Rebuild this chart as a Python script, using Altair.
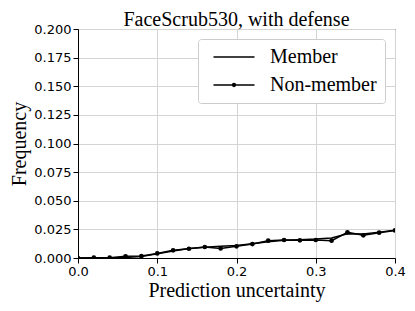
import altair as alt
import pandas as pd

x_vals = [0.00, 0.02, 0.04, 0.06, 0.08, 0.10, 0.12, 0.14, 0.16, 0.18, 0.20,
          0.22, 0.24, 0.26, 0.28, 0.30, 0.32, 0.34, 0.36, 0.38, 0.40]
member = [0.0000, 0.0000, 0.0002, 0.0005, 0.0012, 0.0038, 0.0062, 0.0082, 0.0093,
          0.0102, 0.0110, 0.0125, 0.0142, 0.0155, 0.0160, 0.0165, 0.0175, 0.0212,
          0.0210, 0.0226, 0.0242]
non_member = [0.0000, 0.0003, 0.0003, 0.0015, 0.0017, 0.0040, 0.0067, 0.0081, 0.0096,
              0.0084, 0.0102, 0.0122, 0.0151, 0.0157, 0.0154, 0.0157, 0.0151, 0.0224,
              0.0198, 0.0221, 0.0241]
series_names = ["Member", "Non-member"]
y_ticks = [0.0, 0.025, 0.05, 0.075, 0.1, 0.125, 0.15, 0.175, 0.2]
x_ticks = [0.0, 0.1, 0.2, 0.3, 0.4]

rows = []
for xv, m, n in zip(x_vals, member, non_member):
    rows.append({"x": xv, "y": m, "series": series_names[0]})
    rows.append({"x": xv, "y": n, "series": series_names[1]})
df = pd.DataFrame(rows)

SERIF = "Liberation Serif"
SANS = "DejaVu Sans"

xenc = alt.X("x:Q", scale=alt.Scale(domain=[0, 0.4], nice=False),
             axis=alt.Axis(title="Prediction uncertainty", values=x_ticks, format=".1f"))
yenc = alt.Y("y:Q", scale=alt.Scale(domain=[0, 0.2], nice=False),
             axis=alt.Axis(title="Frequency", values=y_ticks, format=".3f",
                           labelOverlap=False))

lines = alt.Chart().mark_line(strokeWidth=1.5, clip=True, color="black").encode(
    detail="series:N",
)

dots = alt.Chart().transform_filter(
    alt.datum.series == "Non-member"
).mark_circle(size=22, opacity=1, color="black", clip=True)

# legend symbols: a horizontal stroke (and stroke with dot) extending to the right
line_path = "M-1,0H15.4"
dot_path = ("M-1,0H15.4"
            "M6.64,0a0.56,0.56 0 1,0 1.12,0a0.56,0.56 0 1,0 -1.12,0"
            "M6.95,0a0.25,0.25 0 1,0 0.5,0a0.25,0.25 0 1,0 -0.5,0")

legend_layer = alt.Chart().transform_filter("false").mark_point(
    filled=False, color="black", strokeWidth=1.5, opacity=1
).encode(
    shape=alt.Shape("series:N",
                    scale=alt.Scale(domain=series_names, range=[line_path, dot_path]),
                    legend=alt.Legend(
                        title=None, orient="top-right", offset=10,
                        symbolSize=25, symbolStrokeWidth=1.5,
                        symbolStrokeColor="black", symbolOpacity=1,
                        labelFont=SERIF, labelFontSize=20, labelColor="black",
                        labelOffset=44, rowPadding=8, padding=8,
                        strokeColor="#cccccc", fillColor="white",
                        cornerRadius=3,
                    )),
)

chart = alt.layer(lines, dots, legend_layer, data=df).encode(
    x=xenc, y=yenc
).properties(
    width=317, height=229,
    title=alt.TitleParams("FaceScrub530, with defense", font=SERIF, fontSize=20,
                          fontWeight="normal", color="black", offset=3, dy=10),
    autosize=alt.AutoSizeParams(type="none"),
    padding={"left": 70, "top": 21, "right": 12, "bottom": 45},
).configure_view(
    stroke="black", strokeWidth=1
).configure_axis(
    labelFont=SANS, labelFontSize=13, labelColor="black",
    titleFont=SERIF, titleFontSize=20, titleFontWeight="normal", titleColor="black",
    domainColor="black", tickColor="black", tickSize=5, labelPadding=2,
    gridColor="#d4d4d4", gridWidth=1,
).configure_axisX(
    titlePadding=2, labelFlush=False
).configure_axisY(
    titlePadding=4
)

chart.save("out.html", embed_options={"renderer": "svg", "actions": False})
